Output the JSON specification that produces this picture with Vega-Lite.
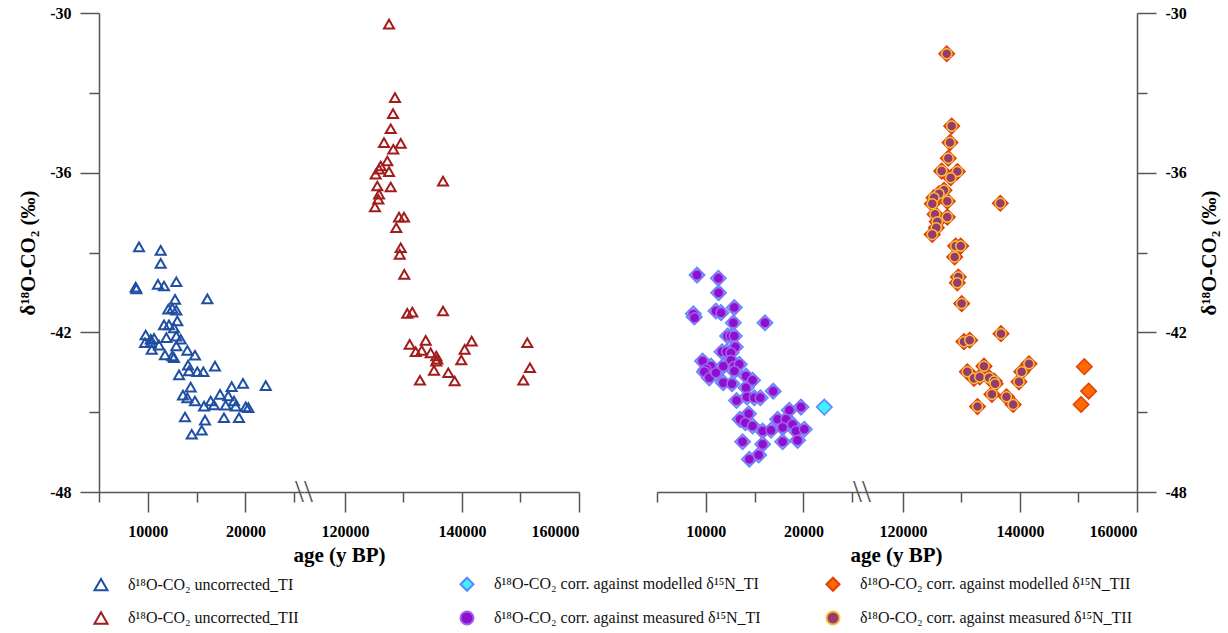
{
  "$schema": "https://vega.github.io/schema/vega-lite/v6.json",
  "background": "white",
  "padding": {"left": 17, "top": 5, "right": 5, "bottom": 5},
  "config": {
    "view": {"stroke": null},
    "font": "Liberation Serif",
    "axis": {"domainColor": "#555", "domainWidth": 1.5, "tickColor": "#555", "tickWidth": 1.5, "labelFont": "Liberation Serif", "labelFontSize": 16, "labelFontWeight": "bold", "labelColor": "#000", "titleFont": "Liberation Serif", "titleFontSize": 21, "titleFontWeight": "bold", "titleColor": "#000", "grid": false, "labelPadding": 9},
    "legend": {"orient": "none", "legendX": -6, "legendY": 563, "columns": 3, "gridAlign": "all", "columnPadding": 56, "rowPadding": 12, "labelFont": "Liberation Serif", "labelFontSize": 16, "labelColor": "#111", "labelLimit": 600, "labelOffset": 19, "symbolStrokeWidth": 2, "symbolSize": 170}
  },
  "datasets": {
    "pts": [
      {"s":"a","x":9100,"y":-38.79},{"s":"a","x":11320,"y":-38.92},{"s":"a","x":11320,"y":-39.41},{"s":"a","x":8760,"y":-40.30},{"s":"a","x":8830,"y":-40.37},{"s":"a","x":11040,"y":-40.20},{"s":"a","x":11660,"y":-40.26},{"s":"a","x":12920,"y":-40.10},{"s":"a","x":16100,"y":-40.74},{"s":"a","x":12790,"y":-40.76},{"s":"a","x":12100,"y":-41.13},{"s":"a","x":12510,"y":-41.10},{"s":"a","x":12920,"y":-41.17},{"s":"a","x":13020,"y":-41.57},{"s":"a","x":11660,"y":-41.72},{"s":"a","x":12170,"y":-41.72},{"s":"a","x":12680,"y":-41.83},{"s":"a","x":9780,"y":-42.10},{"s":"a","x":10300,"y":-42.26},{"s":"a","x":10640,"y":-42.23},{"s":"a","x":9710,"y":-42.39},{"s":"a","x":10300,"y":-42.39},{"s":"a","x":11150,"y":-42.48},{"s":"a","x":11900,"y":-42.20},{"s":"a","x":12920,"y":-42.14},{"s":"a","x":13370,"y":-42.26},{"s":"a","x":10400,"y":-42.64},{"s":"a","x":11760,"y":-42.85},{"s":"a","x":12510,"y":-42.89},{"s":"a","x":12680,"y":-42.95},{"s":"a","x":12920,"y":-42.51},{"s":"a","x":14050,"y":-42.68},{"s":"a","x":14830,"y":-42.86},{"s":"a","x":14120,"y":-43.23},{"s":"a","x":13200,"y":-43.60},{"s":"a","x":14220,"y":-43.45},{"s":"a","x":15070,"y":-43.48},{"s":"a","x":15690,"y":-43.48},{"s":"a","x":16880,"y":-43.27},{"s":"a","x":14390,"y":-44.06},{"s":"a","x":13600,"y":-44.36},{"s":"a","x":14050,"y":-44.46},{"s":"a","x":14830,"y":-44.58},{"s":"a","x":15760,"y":-44.77},{"s":"a","x":16440,"y":-44.58},{"s":"a","x":16780,"y":-44.73},{"s":"a","x":17400,"y":-44.33},{"s":"a","x":18590,"y":-44.04},{"s":"a","x":19750,"y":-43.92},{"s":"a","x":22080,"y":-44.00},{"s":"a","x":18240,"y":-44.39},{"s":"a","x":18830,"y":-44.58},{"s":"a","x":19000,"y":-44.77},{"s":"a","x":17980,"y":-44.74},{"s":"a","x":20030,"y":-44.80},{"s":"a","x":20300,"y":-44.83},{"s":"a","x":13810,"y":-45.18},{"s":"a","x":15860,"y":-45.30},{"s":"a","x":17800,"y":-45.21},{"s":"a","x":19340,"y":-45.21},{"s":"a","x":14500,"y":-45.83},{"s":"a","x":15520,"y":-45.68},
      {"s":"d","x":127530,"y":-30.42},{"s":"d","x":128550,"y":-33.18},{"s":"d","x":128210,"y":-33.78},{"s":"d","x":127820,"y":-34.35},{"s":"d","x":126670,"y":-34.87},{"s":"d","x":129530,"y":-34.90},{"s":"d","x":128260,"y":-35.12},{"s":"d","x":127240,"y":-35.56},{"s":"d","x":126110,"y":-35.75},{"s":"d","x":125820,"y":-35.87},{"s":"d","x":125250,"y":-36.06},{"s":"d","x":127530,"y":-35.96},{"s":"d","x":125530,"y":-36.50},{"s":"d","x":127820,"y":-36.54},{"s":"d","x":125820,"y":-36.81},{"s":"d","x":125700,"y":-37.00},{"s":"d","x":125130,"y":-37.29},{"s":"d","x":136760,"y":-36.32},{"s":"d","x":129240,"y":-37.67},{"s":"d","x":130090,"y":-37.67},{"s":"d","x":128770,"y":-38.07},{"s":"d","x":129530,"y":-38.82},{"s":"d","x":129360,"y":-39.07},{"s":"d","x":130140,"y":-39.82},{"s":"d","x":130650,"y":-41.29},{"s":"d","x":131510,"y":-41.24},{"s":"d","x":136760,"y":-41.20},{"s":"d","x":131060,"y":-42.45},{"s":"d","x":133800,"y":-42.30},{"s":"d","x":132090,"y":-42.73},{"s":"d","x":133120,"y":-42.68},{"s":"d","x":134650,"y":-42.77},{"s":"d","x":135610,"y":-42.89},{"s":"d","x":135780,"y":-43.01},{"s":"d","x":135610,"y":-43.08},{"s":"d","x":141660,"y":-42.33},{"s":"d","x":140460,"y":-42.64},{"s":"d","x":139880,"y":-43.04},{"s":"d","x":135220,"y":-43.43},{"s":"d","x":137660,"y":-43.52},{"s":"d","x":138750,"y":-43.83},{"s":"d","x":132820,"y":-43.80},{"s":"d","x":151160,"y":-42.39},{"s":"d","x":151620,"y":-43.33},{"s":"d","x":150480,"y":-43.80},
      {"s":"b","x":9100,"y":-39.85},{"s":"b","x":11280,"y":-39.97},{"s":"b","x":11310,"y":-40.51},{"s":"b","x":8720,"y":-41.30},{"s":"b","x":8820,"y":-41.42},{"s":"b","x":11040,"y":-41.20},{"s":"b","x":11560,"y":-41.26},{"s":"b","x":12920,"y":-41.07},{"s":"b","x":16060,"y":-41.64},{"s":"b","x":12820,"y":-41.64},{"s":"b","x":12230,"y":-42.14},{"s":"b","x":12580,"y":-42.14},{"s":"b","x":12920,"y":-42.14},{"s":"b","x":13020,"y":-42.55},{"s":"b","x":11660,"y":-42.73},{"s":"b","x":12130,"y":-42.73},{"s":"b","x":12580,"y":-42.77},{"s":"b","x":12580,"y":-43.05},{"s":"b","x":9670,"y":-43.08},{"s":"b","x":10530,"y":-43.27},{"s":"b","x":10020,"y":-43.39},{"s":"b","x":9850,"y":-43.48},{"s":"b","x":10360,"y":-43.71},{"s":"b","x":11040,"y":-43.52},{"s":"b","x":11790,"y":-43.27},{"s":"b","x":12920,"y":-43.27},{"s":"b","x":13430,"y":-43.20},{"s":"b","x":11790,"y":-43.89},{"s":"b","x":12680,"y":-43.93},{"s":"b","x":12920,"y":-43.45},{"s":"b","x":14120,"y":-43.64},{"s":"b","x":14790,"y":-43.80},{"s":"b","x":16910,"y":-44.21},{"s":"b","x":14120,"y":-44.08},{"s":"b","x":13150,"y":-44.56},{"s":"b","x":14220,"y":-44.43},{"s":"b","x":14970,"y":-44.46},{"s":"b","x":15580,"y":-44.46},{"s":"b","x":14380,"y":-45.06},{"s":"b","x":13500,"y":-45.27},{"s":"b","x":14050,"y":-45.40},{"s":"b","x":14790,"y":-45.52},{"s":"b","x":15820,"y":-45.71},{"s":"b","x":16680,"y":-45.68},{"s":"b","x":17350,"y":-45.27},{"s":"b","x":18550,"y":-44.93},{"s":"b","x":19750,"y":-44.81},{"s":"b","x":22140,"y":-44.81},{"s":"b","x":18220,"y":-45.27},{"s":"b","x":18890,"y":-45.46},{"s":"b","x":19240,"y":-45.71},{"s":"b","x":17870,"y":-45.58},{"s":"b","x":20090,"y":-45.64},{"s":"b","x":13770,"y":-46.11},{"s":"b","x":15820,"y":-46.21},{"s":"b","x":17870,"y":-46.11},{"s":"b","x":19400,"y":-46.06},{"s":"b","x":14460,"y":-46.77},{"s":"b","x":15410,"y":-46.61},
      {"s":"e","x":9100,"y":-39.85},{"s":"e","x":11280,"y":-39.97},{"s":"e","x":11310,"y":-40.51},{"s":"e","x":8720,"y":-41.32},{"s":"e","x":8850,"y":-41.45},{"s":"e","x":11040,"y":-41.20},{"s":"e","x":11560,"y":-41.26},{"s":"e","x":12920,"y":-41.07},{"s":"e","x":16060,"y":-41.64},{"s":"e","x":12820,"y":-41.64},{"s":"e","x":12230,"y":-42.14},{"s":"e","x":12580,"y":-42.14},{"s":"e","x":12920,"y":-42.14},{"s":"e","x":13020,"y":-42.55},{"s":"e","x":11660,"y":-42.73},{"s":"e","x":12130,"y":-42.73},{"s":"e","x":12580,"y":-42.77},{"s":"e","x":12580,"y":-43.05},{"s":"e","x":9670,"y":-43.08},{"s":"e","x":10530,"y":-43.27},{"s":"e","x":10020,"y":-43.39},{"s":"e","x":9850,"y":-43.48},{"s":"e","x":10360,"y":-43.71},{"s":"e","x":11040,"y":-43.52},{"s":"e","x":11790,"y":-43.27},{"s":"e","x":12920,"y":-43.27},{"s":"e","x":13430,"y":-43.20},{"s":"e","x":11790,"y":-43.89},{"s":"e","x":12680,"y":-43.93},{"s":"e","x":12920,"y":-43.45},{"s":"e","x":14120,"y":-43.64},{"s":"e","x":14790,"y":-43.80},{"s":"e","x":16910,"y":-44.21},{"s":"e","x":14120,"y":-44.08},{"s":"e","x":13150,"y":-44.56},{"s":"e","x":14220,"y":-44.43},{"s":"e","x":14970,"y":-44.46},{"s":"e","x":15580,"y":-44.46},{"s":"e","x":14380,"y":-45.06},{"s":"e","x":13500,"y":-45.27},{"s":"e","x":14050,"y":-45.40},{"s":"e","x":14790,"y":-45.52},{"s":"e","x":15820,"y":-45.71},{"s":"e","x":16680,"y":-45.68},{"s":"e","x":17350,"y":-45.27},{"s":"e","x":18550,"y":-44.93},{"s":"e","x":19750,"y":-44.81},{"s":"e","x":18220,"y":-45.27},{"s":"e","x":18890,"y":-45.46},{"s":"e","x":19240,"y":-45.71},{"s":"e","x":17870,"y":-45.58},{"s":"e","x":20090,"y":-45.64},{"s":"e","x":13770,"y":-46.11},{"s":"e","x":15820,"y":-46.21},{"s":"e","x":17870,"y":-46.11},{"s":"e","x":19400,"y":-46.06},{"s":"e","x":14460,"y":-46.77},{"s":"e","x":15410,"y":-46.61},
      {"s":"c","x":127480,"y":-31.53},{"s":"c","x":128330,"y":-34.25},{"s":"c","x":128040,"y":-34.87},{"s":"c","x":127750,"y":-35.46},{"s":"c","x":126620,"y":-35.94},{"s":"c","x":129290,"y":-35.96},{"s":"c","x":128160,"y":-36.19},{"s":"c","x":127010,"y":-36.66},{"s":"c","x":126160,"y":-36.79},{"s":"c","x":125310,"y":-36.94},{"s":"c","x":125010,"y":-37.17},{"s":"c","x":127580,"y":-37.07},{"s":"c","x":136640,"y":-37.15},{"s":"c","x":125480,"y":-37.56},{"s":"c","x":127580,"y":-37.67},{"s":"c","x":125870,"y":-37.84},{"s":"c","x":125700,"y":-38.07},{"s":"c","x":125010,"y":-38.32},{"s":"c","x":129010,"y":-38.76},{"s":"c","x":129870,"y":-38.76},{"s":"c","x":128840,"y":-39.17},{"s":"c","x":129460,"y":-39.92},{"s":"c","x":129290,"y":-40.14},{"s":"c","x":130040,"y":-40.92},{"s":"c","x":130430,"y":-42.35},{"s":"c","x":131410,"y":-42.30},{"s":"c","x":136760,"y":-42.05},{"s":"c","x":131000,"y":-43.48},{"s":"c","x":133850,"y":-43.27},{"s":"c","x":132140,"y":-43.73},{"s":"c","x":133120,"y":-43.68},{"s":"c","x":134740,"y":-43.71},{"s":"c","x":135590,"y":-43.83},{"s":"c","x":135760,"y":-43.93},{"s":"c","x":141540,"y":-43.18},{"s":"c","x":140290,"y":-43.48},{"s":"c","x":139830,"y":-43.86},{"s":"c","x":135200,"y":-44.33},{"s":"c","x":137690,"y":-44.42},{"s":"c","x":138840,"y":-44.71},{"s":"c","x":132740,"y":-44.79},{"s":"c","x":151000,"y":-43.29},{"s":"c","x":151740,"y":-44.21},{"s":"c","x":150440,"y":-44.71},
      {"s":"f","x":127480,"y":-31.53},{"s":"f","x":128330,"y":-34.25},{"s":"f","x":128040,"y":-34.87},{"s":"f","x":127750,"y":-35.46},{"s":"f","x":126620,"y":-35.94},{"s":"f","x":129290,"y":-35.96},{"s":"f","x":128160,"y":-36.19},{"s":"f","x":127010,"y":-36.66},{"s":"f","x":126160,"y":-36.79},{"s":"f","x":125310,"y":-36.94},{"s":"f","x":125010,"y":-37.17},{"s":"f","x":127580,"y":-37.07},{"s":"f","x":136640,"y":-37.15},{"s":"f","x":125480,"y":-37.56},{"s":"f","x":127580,"y":-37.67},{"s":"f","x":125870,"y":-37.84},{"s":"f","x":125700,"y":-38.07},{"s":"f","x":125010,"y":-38.32},{"s":"f","x":129010,"y":-38.76},{"s":"f","x":129870,"y":-38.76},{"s":"f","x":128840,"y":-39.17},{"s":"f","x":129460,"y":-39.92},{"s":"f","x":129290,"y":-40.14},{"s":"f","x":130040,"y":-40.92},{"s":"f","x":130430,"y":-42.35},{"s":"f","x":131410,"y":-42.30},{"s":"f","x":136760,"y":-42.05},{"s":"f","x":131000,"y":-43.48},{"s":"f","x":133850,"y":-43.27},{"s":"f","x":132140,"y":-43.73},{"s":"f","x":133120,"y":-43.68},{"s":"f","x":134740,"y":-43.71},{"s":"f","x":135590,"y":-43.83},{"s":"f","x":135760,"y":-43.93},{"s":"f","x":141540,"y":-43.18},{"s":"f","x":140290,"y":-43.48},{"s":"f","x":139830,"y":-43.86},{"s":"f","x":135200,"y":-44.33},{"s":"f","x":137690,"y":-44.42},{"s":"f","x":138840,"y":-44.71},{"s":"f","x":132740,"y":-44.79}
    ]
  },
  "bounds": "flush",
  "spacing": 0,
  "hconcat": [
    {
      "width": 205, "height": 479,
      "data": {"name": "pts"},
      "transform": [{"filter": {"field": "s", "oneOf": ["a"]}}],
      "mark": {"type": "point", "filled": false, "strokeWidth": 2, "opacity": 1, "size": 100},
      "encoding": {
        "x": {"field": "x", "type": "quantitative", "scale": {"domain": [5000, 26000], "nice": false, "zero": false},
          "axis": {"values": [5000, 10000, 15000, 20000, 25000], "tickSize": {"condition": {"test": "datum.value % 10000 === 0", "value": 20}, "value": 10}, "labelExpr": "datum.value % 10000 === 0 ? '' + datum.value : ''", "labelPadding": 11, "title": "age (y BP)", "titleX": 240, "titlePadding": 5}},
        "y": {"field": "y", "type": "quantitative", "scale": {"domain": [-48, -30], "nice": false, "zero": false},
          "axis": {"values": [-48, -45, -42, -39, -36, -33, -30], "tickSize": {"condition": {"test": "datum.value % 6 === 0", "value": 19}, "value": 10}, "labelExpr": "datum.value % 6 === 0 ? '' + datum.value : ''", "title": "δ¹⁸O-CO₂ (‰)", "titlePadding": 11}},
        "fill": {"field": "s", "type": "nominal", "scale": {"domain": ["a","d","b","e","c","f"], "range": ["transparent","transparent","#3ff0ff","#8b10cf","#ff6a00","#993a6c"]}, "legend": {"title": null, "labelExpr": "datum.value=='a'?'δ¹⁸O-CO₂ uncorrected_TI':datum.value=='b'?'δ¹⁸O-CO₂ corr. against modelled δ¹⁵N_TI':datum.value=='c'?'δ¹⁸O-CO₂ corr. against modelled δ¹⁵N_TII':datum.value=='d'?'δ¹⁸O-CO₂ uncorrected_TII':datum.value=='e'?'δ¹⁸O-CO₂ corr. against measured δ¹⁵N_TI':'δ¹⁸O-CO₂ corr. against measured δ¹⁵N_TII'"}},
        "stroke": {"field": "s", "type": "nominal", "scale": {"domain": ["a","d","b","e","c","f"], "range": ["#1f4ea3","#a31c1c","#5f86ff","#a862e8","#e0400a","#f2c23c"]}, "legend": {"title": null}},
        "shape": {"field": "s", "type": "nominal", "scale": {"domain": ["a","d","b","e","c","f"], "range": ["triangle-up","triangle-up","diamond","circle","diamond","circle"]}, "legend": {"title": null}}
      }
    },
    {
      "width": 275, "height": 479,
      "layer": [
        {
          "data": {"name": "pts"},
          "transform": [{"filter": {"field": "s", "oneOf": ["d"]}}],
          "mark": {"type": "point", "filled": false, "strokeWidth": 2, "opacity": 1, "size": 100},
          "encoding": {
            "x": {"field": "x", "type": "quantitative", "scale": {"domain": [113000, 160000], "nice": false, "zero": false},
              "axis": {"values": [120000, 130000, 140000, 150000, 160000], "tickSize": {"condition": {"test": "datum.value % 20000 === 0", "value": 20}, "value": 10}, "labelExpr": "datum.value % 20000 === 0 ? '' + datum.value : ''", "labelPadding": 11, "title": null}},
            "y": {"field": "y", "type": "quantitative", "scale": {"domain": [-48, -30], "nice": false, "zero": false}, "axis": null},
            "fill": {"field": "s", "type": "nominal", "scale": {"domain": ["a","d","b","e","c","f"]}, "legend": {"title": null}},
            "stroke": {"field": "s", "type": "nominal", "scale": {"domain": ["a","d","b","e","c","f"]}, "legend": {"title": null}},
            "shape": {"field": "s", "type": "nominal", "scale": {"domain": ["a","d","b","e","c","f"]}, "legend": {"title": null}}
          }
        },
        {
          "data": {"values": [{}]},
          "mark": {"type": "text", "text": "\\\\", "fontSize": 32, "color": "#555", "baseline": "middle", "align": "center"},
          "encoding": {"x": {"datum": 113000, "type": "quantitative"}, "y": {"datum": -48, "type": "quantitative"}}
        }
      ]
    },
    {
      "width": 78, "height": 479,
      "data": {"values": []},
      "mark": "point",
      "encoding": {}
    },
    {
      "width": 205, "height": 479,
      "layer": [
        {
          "data": {"name": "pts"},
          "transform": [{"filter": {"field": "s", "oneOf": ["b"]}}],
          "mark": {"type": "point", "filled": false, "strokeWidth": 1.5, "opacity": 1, "size": 240},
          "encoding": {
            "x": {"field": "x", "type": "quantitative", "scale": {"domain": [5000, 26000], "nice": false, "zero": false},
              "axis": {"values": [5000, 10000, 15000, 20000, 25000], "tickSize": {"condition": {"test": "datum.value % 10000 === 0", "value": 20}, "value": 10}, "labelExpr": "datum.value % 10000 === 0 ? '' + datum.value : ''", "labelPadding": 11, "title": "age (y BP)", "titleX": 239, "titlePadding": 5}},
            "y": {"field": "y", "type": "quantitative", "scale": {"domain": [-48, -30], "nice": false, "zero": false}, "axis": null},
            "fill": {"field": "s", "type": "nominal", "scale": {"domain": ["a","d","b","e","c","f"]}, "legend": {"title": null}},
            "stroke": {"field": "s", "type": "nominal", "scale": {"domain": ["a","d","b","e","c","f"]}, "legend": {"title": null}},
            "shape": {"field": "s", "type": "nominal", "scale": {"domain": ["a","d","b","e","c","f"]}, "legend": {"title": null}}
          }
        },
        {
          "data": {"name": "pts"},
          "transform": [{"filter": {"field": "s", "oneOf": ["e"]}}],
          "mark": {"type": "point", "filled": false, "strokeWidth": 1.5, "opacity": 1, "size": 100},
          "encoding": {
            "x": {"field": "x", "type": "quantitative"},
            "y": {"field": "y", "type": "quantitative"},
            "fill": {"field": "s", "type": "nominal", "scale": {"domain": ["a","d","b","e","c","f"]}, "legend": {"title": null}},
            "stroke": {"field": "s", "type": "nominal", "scale": {"domain": ["a","d","b","e","c","f"]}, "legend": {"title": null}},
            "shape": {"field": "s", "type": "nominal", "scale": {"domain": ["a","d","b","e","c","f"]}, "legend": {"title": null}}
          }
        }
      ]
    },
    {
      "width": 275, "height": 479,
      "layer": [
        {
          "data": {"name": "pts"},
          "transform": [{"filter": {"field": "s", "oneOf": ["c"]}}],
          "mark": {"type": "point", "filled": false, "strokeWidth": 1.5, "opacity": 1, "size": 240},
          "encoding": {
            "x": {"field": "x", "type": "quantitative", "scale": {"domain": [113000, 160000], "nice": false, "zero": false},
              "axis": {"values": [120000, 130000, 140000, 150000, 160000], "tickSize": {"condition": {"test": "datum.value % 20000 === 0", "value": 20}, "value": 10}, "labelExpr": "datum.value % 20000 === 0 ? '' + datum.value : ''", "labelPadding": 11, "title": null}},
            "y": {"field": "y", "type": "quantitative", "scale": {"domain": [-48, -30], "nice": false, "zero": false},
              "axis": {"orient": "right", "values": [-48, -45, -42, -39, -36, -33, -30], "tickSize": {"condition": {"test": "datum.value % 6 === 0", "value": 19}, "value": 10}, "labelExpr": "datum.value % 6 === 0 ? '' + datum.value : ''", "title": "δ¹⁸O-CO₂ (‰)", "titleAngle": 270, "titleBaseline": "top", "titlePadding": 12}},
            "fill": {"field": "s", "type": "nominal", "scale": {"domain": ["a","d","b","e","c","f"]}, "legend": {"title": null}},
            "stroke": {"field": "s", "type": "nominal", "scale": {"domain": ["a","d","b","e","c","f"]}, "legend": {"title": null}},
            "shape": {"field": "s", "type": "nominal", "scale": {"domain": ["a","d","b","e","c","f"]}, "legend": {"title": null}}
          }
        },
        {
          "data": {"name": "pts"},
          "transform": [{"filter": {"field": "s", "oneOf": ["f"]}}],
          "mark": {"type": "point", "filled": false, "strokeWidth": 1.5, "opacity": 1, "size": 100},
          "encoding": {
            "x": {"field": "x", "type": "quantitative"},
            "y": {"field": "y", "type": "quantitative"},
            "fill": {"field": "s", "type": "nominal", "scale": {"domain": ["a","d","b","e","c","f"]}, "legend": {"title": null}},
            "stroke": {"field": "s", "type": "nominal", "scale": {"domain": ["a","d","b","e","c","f"]}, "legend": {"title": null}},
            "shape": {"field": "s", "type": "nominal", "scale": {"domain": ["a","d","b","e","c","f"]}, "legend": {"title": null}}
          }
        },
        {
          "data": {"values": [{}]},
          "mark": {"type": "text", "text": "\\\\", "fontSize": 32, "color": "#555", "baseline": "middle", "align": "center"},
          "encoding": {"x": {"datum": 113000, "type": "quantitative"}, "y": {"datum": -48, "type": "quantitative"}}
        }
      ]
    }
  ]
}
